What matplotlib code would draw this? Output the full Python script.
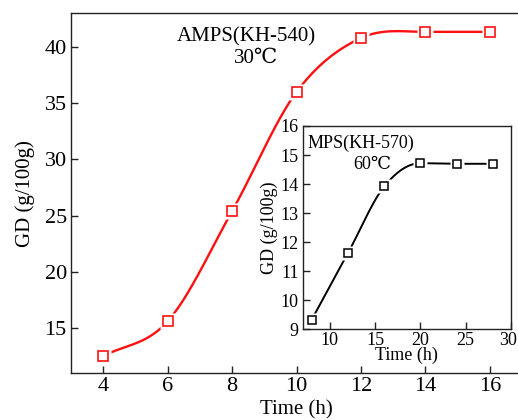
import numpy as np
import matplotlib.pyplot as plt
from matplotlib.transforms import ScaledTranslation

# ---------------- data ----------------
# main panel: AMPS(KH-540), 30 C
main_time = [4, 6, 8, 10, 12, 14, 16]
main_gd = [12.5, 15.6, 25.4, 36.0, 40.8, 41.35, 41.35]

# inset: MPS(KH-570), 60 C
inset_time = [8, 12, 16, 20, 24, 28]
inset_gd = [9.34, 11.63, 13.92, 14.72, 14.70, 14.70]

FONT = "Liberation Serif"
RED = "#ff1010"
plt.rcParams["font.family"] = [FONT, "DejaVu Serif"]


def smooth_line(x, y, n=300):
    # cubic Hermite (Catmull-Rom slopes, flat at local extrema) for the connecting line
    x = np.asarray(x, float)
    y = np.asarray(y, float)
    h = np.diff(x)
    d = np.diff(y) / h
    m = np.zeros_like(y)
    m[0] = d[0]
    m[-1] = d[-1]
    for k in range(1, len(x) - 1):
        if d[k - 1] * d[k] > 0:
            m[k] = (y[k + 1] - y[k - 1]) / (x[k + 1] - x[k - 1])
    xs = np.linspace(x[0], x[-1], n)
    idx = np.clip(np.searchsorted(x, xs) - 1, 0, len(x) - 2)
    t = (xs - x[idx]) / h[idx]
    h00 = 2 * t**3 - 3 * t**2 + 1
    h10 = t**3 - 2 * t**2 + t
    h01 = -2 * t**3 + 3 * t**2
    h11 = t**3 - t**2
    ys = (h00 * y[idx] + h10 * h[idx] * m[idx]
          + h01 * y[idx + 1] + h11 * h[idx] * m[idx + 1])
    return xs, ys


def style_axes(ax, fs, pad=3):
    for sp in ax.spines.values():
        sp.set_color("#222222")
        sp.set_linewidth(1.0)
    ax.tick_params(direction="in", length=5, width=1.0, color="#222222",
                   labelsize=fs, pad=pad, top=False, right=False)


fig = plt.figure(figsize=(5.18, 4.20), dpi=100)

# ---------------- main ----------------
ax = fig.add_axes([0.1371, 0.1119, 0.8707, 0.8564])
xs, ys = smooth_line(main_time, main_gd)
ax.plot(xs, ys, color=RED, lw=1.7, zorder=2)
ax.plot(main_time, main_gd, ls="none", marker="s", ms=12, mfc="white",
        mec="none", zorder=3)
ax.plot(main_time, main_gd, ls="none", marker="s", ms=7.5, mfc="white",
        mec=RED, mew=1.2, zorder=4)
ax.set_xlim(3, 17)
ax.set_ylim(11, 43)
ax.set_xticks([4, 6, 8, 10, 12, 14, 16])
ax.set_yticks([15, 20, 25, 30, 35, 40])
style_axes(ax, 16)
ax.set_xlabel("Time (h)", fontsize=15, labelpad=3)
ax.set_ylabel("GD (g/100g)", fontsize=15, labelpad=7)
ax.text(8.44, 40.9, "AMPS(KH-540)", fontsize=15, ha="center", va="center")
ax.text(8.75, 39.0, "30\u2103", fontsize=15, ha="center", va="center")

# ---------------- inset ----------------
ins = fig.add_axes([0.5844, 0.2155, 0.4021, 0.4845])
xs, ys = smooth_line(inset_time, inset_gd)
ins.plot(xs, ys, color="black", lw=1.4, zorder=2)
ins.plot(inset_time, inset_gd, ls="none", marker="s", ms=10, mfc="white",
         mec="none", zorder=3)
ins.plot(inset_time, inset_gd, ls="none", marker="s", ms=5.5, mfc="white",
         mec="black", mew=1.1, zorder=4)
ins.set_xlim(7, 30)
ins.set_ylim(9, 16)
ins.set_xticks([10, 15, 20, 25, 30])
ins.set_yticks([9, 10, 11, 12, 13, 14, 15, 16])
style_axes(ins, 13)
ins.tick_params(axis="x", pad=1.5)
ins.set_xlabel("Time (h)", fontsize=13, labelpad=-1)
ins.set_ylabel("GD (g/100g)", fontsize=13, labelpad=2)
ins.text(7.5, 15.42, "MPS(KH-570)", fontsize=13, ha="left", va="center")
ins.text(14.7, 14.66, "60\u2103", fontsize=13, ha="center", va="center")

# keep the last inset tick label inside the canvas
last = ins.get_xticklabels()[-1]
last.set_transform(last.get_transform()
                   + ScaledTranslation(-3 / 100, 0, fig.dpi_scale_trans))

fig.savefig("out.png", dpi=100)
